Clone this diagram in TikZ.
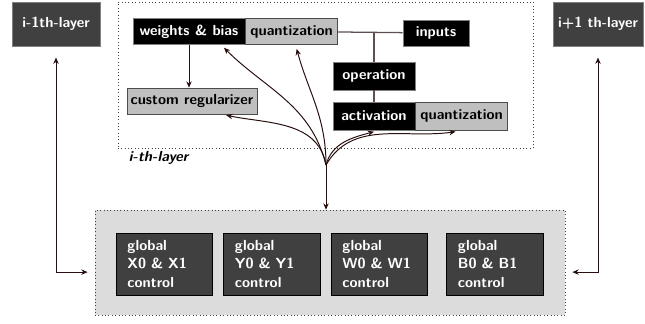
\documentclass[tikz,border=0pt]{standalone}
\usepackage{amsmath,amssymb}
\usepackage{tikz}
\usetikzlibrary{positioning,arrows.meta}
\definecolor{linkcol}{RGB}{40,15,15}
\definecolor{paircol}{RGB}{95,80,80}
\definecolor{layercol}{RGB}{64,64,64}
\definecolor{quantcol}{RGB}{191,191,191}
\definecolor{ctrlbg}{RGB}{220,220,220}

\begin{document}
\begin{tikzpicture}[x=0.025cm,y=0.025cm,
  every node/.style={font=\fontsize{10.4}{12}\selectfont\sffamily\bfseries},
  blk/.style={draw=gray,fill=black,text=white,minimum height=0.65cm,inner sep=2pt},
  quant/.style={draw=black!70,fill=quantcol,text=black,minimum height=0.65cm,inner sep=2pt},
  layer/.style={draw=gray,fill=layercol,text=white,minimum width=2.2cm,minimum height=1.1cm},
  ctrl/.style={draw=black,fill=layercol,text=white,align=left,text width=1.85cm,
    minimum width=2.33cm,minimum height=1.55cm,inner xsep=8pt},
  frame/.style={draw=black!75,dotted},
  tip/.style={Stealth[length=4.5pt,width=3.8pt]},
  link/.style={draw=linkcol,line width=0.7pt,-{Stealth[length=4.5pt,width=3.8pt]}},
  both/.style={draw=linkcol,line width=0.7pt,{Stealth[length=4.5pt,width=3.8pt]}-{Stealth[length=4.5pt,width=3.8pt]}},
  pair/.style={draw=paircol,line width=0.9pt}]
  \useasboundingbox (0,0) rectangle (645,323);

  % neighbour layers
  \node[layer] (prev) at (56,299) {i-1th-layer};
  \node[layer,minimum width=2.25cm] (next) at (598,299) {i+1 th-layer};

  % current layer
  \node[frame,minimum width=10.375cm,minimum height=3.65cm] (ith) at (325.5,248) {};
  \node[anchor=west,font=\fontsize{10.4}{12}\selectfont\sffamily\bfseries\itshape] (ithlab) at (124,165) {i-th-layer};
  \node[blk,minimum width=2.8cm] (w) at (189,291.5) {weights \& bias};
  \node[quant,minimum width=2.3cm] (q1) [right=0pt of w] {quantization};
  \node[blk,minimum width=1.65cm] (in) at (436,290) {inputs};
  \node[blk,minimum width=2.05cm,minimum height=0.7cm] (op) at (374,247) {operation};
  \node[blk,minimum width=2.05cm,minimum height=0.7cm] (act) at (374,207) {activation};
  \node[quant,minimum width=2.3cm,minimum height=0.7cm] (q2) [right=0pt of act] {quantization};
  \node[quant,minimum width=3.25cm] (reg) at (192,222) {custom regularizer};

  \draw[pair] (q1) -- (in);
  \draw[pair] (op.north) -- (op.north |- in.west);
  \draw[pair] (op) -- (act);
  \draw[link] (w.south) -- (w.south |- reg.north);

  % global controls
  \node[frame,fill=ctrlbg,minimum width=11.75cm,minimum height=2.625cm] (glob) at (330,60.5) {};
  \node[ctrl] (cx) at (164.5,59) {global\\[1pt] X0 \& X1\\[1pt] control};
  \node[ctrl] (cy) at (272,59) {global\\[1pt] Y0 \& Y1\\[1pt] control};
  \node[ctrl] (cw) at (379.5,59) {global\\[1pt] W0 \& W1\\[1pt] control};
  \node[ctrl] (cb) at (495,59) {global\\[1pt] B0 \& B1\\[1pt] control};

  % control fan
  \coordinate (hub) at (326,158);
  \draw[link] (hub) -- (hub |- glob.north);
  \draw[link,shorten >=3pt] (hub) to[out=100,in=-12] ([xshift=0.75cm]reg.south);
  \draw[link,shorten >=3pt] (hub) to[out=104,in=-45] ([xshift=0.8cm]w.south);
  \draw[link,shorten >=3pt] (hub) to[out=90,in=-75] ([xshift=0.1cm]q1.south);
  \draw[link] (hub) to[out=75,in=195] ([yshift=-1pt]act.south);
  \draw[link] (hub) to[out=60,in=188] ([xshift=-0.15cm,yshift=-1pt]q2.south);

  \draw[both,shorten <=8pt,shorten >=5pt] (prev.south) |- ([yshift=-0.24cm]glob.west);
  \draw[both,shorten <=8pt,shorten >=5pt] (next.south) |- ([yshift=-0.24cm]glob.east);
\end{tikzpicture}
\end{document}
